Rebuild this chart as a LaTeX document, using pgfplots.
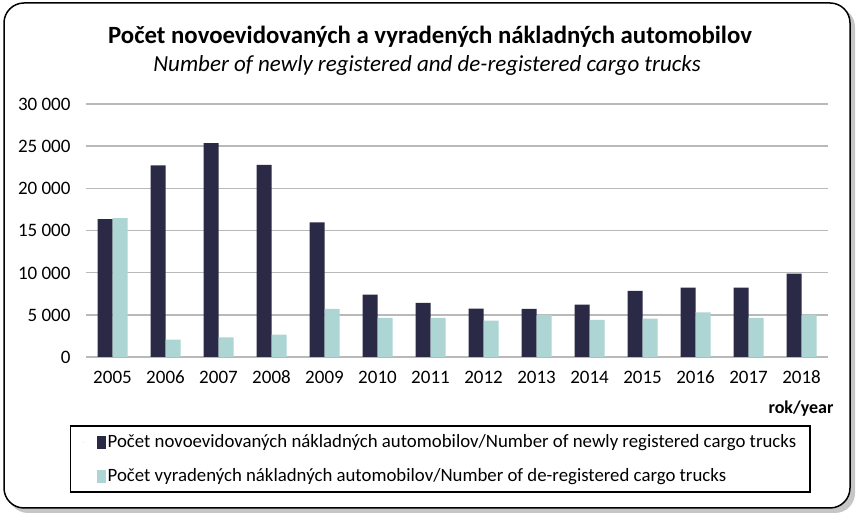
\documentclass[border=0pt]{standalone}
\usepackage{pgfplots}
\pgfplotsset{compat=1.18}
\usepackage{fontspec}
\setmainfont{Carlito}[Numbers=Lining]

\definecolor{darkbar}{RGB}{43,42,70}
\definecolor{lightbar}{RGB}{173,213,212}
\definecolor{gridgray}{RGB}{185,185,185}

\begin{document}
\begin{tikzpicture}[x=1bp,y=1bp]
\useasboundingbox (0,0) rectangle (862,520);
% frame with shadow
\fill[gray!45, rounded corners=20bp] (8,7) rectangle (855,513);
\draw[black, line width=1.5bp, fill=white, rounded corners=20bp] (4,12) rectangle (850,517);

\node[font=\fontsize{24.8bp}{28bp}\selectfont\bfseries] at (430,483) {Počet novoevidovaných a vyradených nákladných automobilov};
\node[font=\fontsize{23bp}{26bp}\selectfont\itshape] at (427,455) {Number of newly registered and de-registered cargo trucks};

\begin{axis}[
    at={(86bp,163bp)}, anchor=south west,
    scale only axis,
    width=742bp, height=253bp,
    ybar, bar width=15bp,
    xmin=-0.5, xmax=13.5,
    ymin=0, ymax=30000,
    ytick={0,5000,...,30000},
    xtick={0,...,13},
    xticklabels={2005,2006,2007,2008,2009,2010,2011,2012,2013,2014,2015,2016,2017,2018},
    axis line style={draw=none},
    major tick length=0pt,
    ymajorgrids,
    grid style={gridgray, line width=1.6bp},
    tick label style={font=\fontsize{19bp}{22bp}\selectfont, text height=13bp, text depth=0bp},
    /pgf/number format/assume math mode=true,
    /pgf/number format/1000 sep={\ },
    scaled y ticks=false,
    yticklabel style={xshift=-12bp},
    xticklabel style={yshift=-10bp},
    legend style={
        at={(-0.0216,-0.269)}, anchor=north west,
        draw=black, line width=1.5bp,
        font=\fontsize{18.8bp}{22bp}\selectfont,
        inner xsep=12bp, inner ysep=7bp,
        row sep=15bp,
        legend cell align=left,
    },
    legend image code/.code={\path (0bp,0bp) -- (1bp,0bp);\fill[#1] (14bp,-7bp) rectangle (23bp,6bp);},
]
\addplot[fill=darkbar, draw=none, bar shift=-7.5bp] coordinates {
(0,16350) (1,22710) (2,25370) (3,22790) (4,15950) (5,7400) (6,6410)
(7,5740) (8,5700) (9,6210) (10,7840) (11,8230) (12,8230) (13,9890)};
\addlegendentry{Počet novoevidovaných nákladných automobilov/Number of newly registered cargo trucks}
\addplot[fill=lightbar, draw=none, bar shift=7.5bp] coordinates {
(0,16460) (1,2060) (2,2330) (3,2650) (4,5700) (5,4630) (6,4630)
(7,4310) (8,4990) (9,4390) (10,4550) (11,5300) (12,4630) (13,5030)};
\addlegendentry{Počet vyradených nákladných automobilov/Number of de-registered cargo trucks}
\end{axis}

\node[anchor=east, font=\fontsize{18bp}{21bp}\selectfont\bfseries] at (837,111) {rok/year};
\end{tikzpicture}
\end{document}
